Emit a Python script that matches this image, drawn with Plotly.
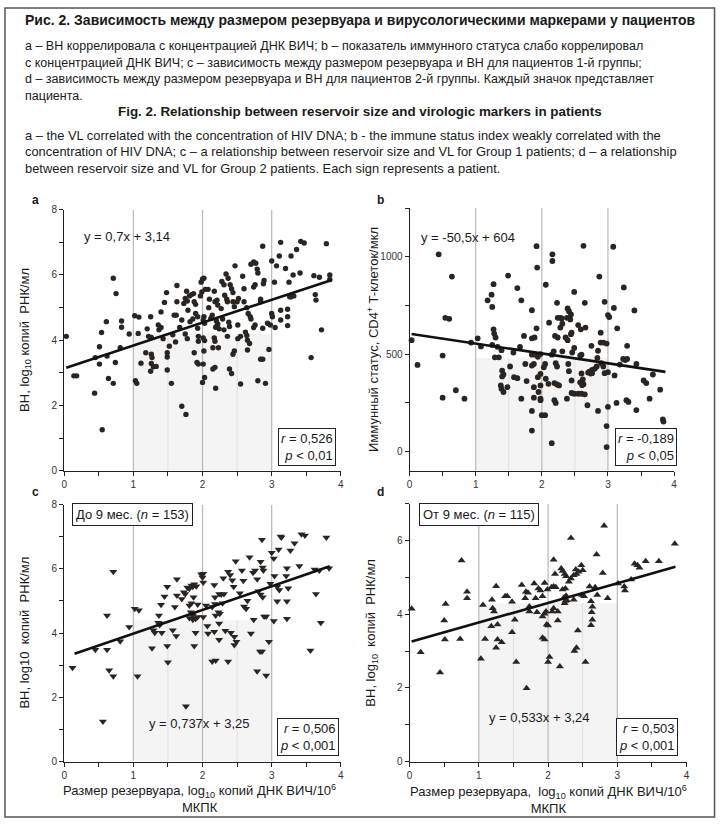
import plotly.graph_objects as go

W, H = 720, 827

# ---------------- data ----------------
a_x = [0.03,0.14,0.18,0.44,0.45,0.51,0.54,0.51,0.55,0.61,0.62,0.64,0.71,0.71,0.75,0.74,0.81,0.83,0.83,0.94,
       1.02,1.08,1.07,1.03,1.05,1.11,1.18,1.20,1.22,1.26,1.25,1.26,1.27,1.26,1.29,1.25,1.33,1.36,1.37,1.40,
       1.40,1.43,1.45,1.48,1.49,1.49,1.49,1.52,1.55,1.57,1.59,1.62,1.61,1.63,1.63,1.67,1.70,1.70,1.73,1.75,
       1.78,1.77,1.76,1.79,1.81,1.84,1.87,1.82,1.86,1.75,1.78,1.88,1.88,1.90,1.90,1.93,1.93,1.94,1.94,1.92,
       1.94,1.98,2.00,2.00,1.97,1.99,
       2.02,2.04,2.02,2.01,2.03,2.01,2.03,2.02,2.01,2.03,2.08,2.10,2.09,2.12,2.14,2.17,2.18,2.21,2.22,2.19,
       2.22,2.20,2.24,2.21,2.17,2.18,2.15,2.23,2.18,2.15,2.19,2.28,2.31,2.27,2.29,2.32,2.35,2.36,2.31,2.36,
       2.34,2.37,2.38,2.39,2.40,2.42,2.44,2.39,2.42,2.44,2.46,2.44,2.46,2.47,2.51,2.50,2.52,2.51,2.55,2.55,
       2.58,2.60,2.60,2.64,2.62,2.64,2.65,2.68,2.65,2.66,2.69,2.70,2.70,2.74,2.77,2.79,2.80,2.74,2.76,2.74,
       2.76,2.80,2.84,2.87,2.84,2.84,2.87,2.87,2.89,2.88,2.91,2.96,2.94,2.98,3.00,3.00,3.01,3.04,3.05,3.07,
       3.11,3.13,3.13,3.13,3.20,3.23,3.23,3.25,3.23,3.28,3.26,3.28,3.32,3.36,3.41,3.42,3.47,3.31,3.63,3.64,
       3.61,3.69,3.72,3.57,3.79,3.84,3.84]
a_y = [4.12,2.91,2.91,2.38,3.47,3.80,4.24,3.27,1.26,4.57,3.52,2.83,2.68,5.90,5.43,3.32,3.77,4.59,4.40,4.19,
       4.75,4.71,4.21,2.76,2.68,3.30,3.62,4.35,4.12,4.09,4.72,3.57,3.47,3.29,3.19,3.05,3.20,4.47,4.32,4.39,
       4.87,4.05,5.16,5.46,3.62,3.49,3.09,3.82,2.68,4.17,4.77,4.77,3.95,5.68,5.18,4.39,1.98,4.62,5.13,5.28,
       5.20,5.50,1.73,4.92,5.36,5.40,5.43,4.57,4.65,4.19,4.05,3.62,5.18,5.10,4.82,4.72,4.37,4.12,3.97,3.32,
       3.27,5.78,5.88,2.71,5.36,5.48,
       5.90,5.56,4.72,4.62,4.52,4.07,3.99,3.67,3.27,2.86,5.56,5.26,5.00,4.67,4.77,5.50,5.18,5.23,5.08,4.40,
       4.50,4.60,4.35,4.45,4.07,3.97,3.77,3.77,3.17,3.12,2.53,5.80,5.70,4.97,4.65,5.38,5.26,5.18,4.32,4.12,
       6.03,5.90,4.55,4.42,5.70,5.58,5.46,3.12,2.98,5.18,5.03,3.57,3.67,6.28,4.47,5.18,5.28,4.05,4.12,2.66,
       5.96,5.58,5.18,5.00,4.25,4.15,4.00,3.90,3.70,4.82,4.72,4.65,6.33,6.40,6.36,6.18,6.06,4.39,4.47,5.63,
       5.70,2.76,3.42,3.42,5.18,5.26,6.88,4.37,5.83,5.73,2.68,3.72,4.52,4.47,6.43,4.82,4.72,5.78,4.39,6.28,
       6.58,7.00,4.92,4.62,6.20,4.95,4.72,5.78,4.45,6.58,5.33,5.33,5.36,6.78,6.06,7.03,6.98,6.00,5.40,5.23,
       5.98,5.93,4.32,3.47,6.96,6.00,5.86]

b_x = [0.03,0.12,0.44,0.50,0.64,0.54,0.60,0.50,0.70,0.83,0.93,1.03,1.08,1.18,1.24,1.27,1.25,1.25,1.27,1.28,
       1.30,1.29,1.35,1.33,1.39,1.40,1.42,1.40,1.38,1.39,1.42,1.48,1.52,1.49,1.57,1.58,1.63,1.63,1.69,1.69,
       1.67,1.73,1.75,1.77,1.85,1.85,1.89,1.85,1.88,1.85,1.88,1.88,1.85,1.85,1.92,1.90,1.94,1.98,1.94,1.98,
       1.95,1.98,1.92,1.93,1.98,1.98,2.00,
       2.16,2.16,2.06,2.11,2.23,2.24,2.28,2.30,2.20,2.24,2.28,2.31,2.18,2.15,2.21,2.23,2.05,2.03,2.06,2.10,
       2.19,2.23,2.26,2.19,2.21,2.05,2.15,2.31,2.39,2.41,2.44,2.38,2.43,2.40,2.41,2.36,2.39,2.45,2.44,2.45,
       2.45,2.49,2.38,2.46,2.49,2.49,2.55,2.59,2.58,2.60,2.60,2.62,2.63,2.58,2.61,2.55,2.60,2.65,2.63,2.65,
       2.66,2.70,2.72,2.74,2.76,2.69,2.75,2.76,2.80,2.83,2.85,2.85,2.84,2.87,2.89,2.93,2.98,2.89,2.90,2.93,
       2.95,3.00,3.02,3.00,2.95,3.00,2.98,2.98,3.08,3.09,3.10,3.14,3.13,3.18,3.24,3.23,3.26,3.29,3.29,3.28,
       3.31,3.40,3.43,3.43,3.54,3.58,3.63,3.68,3.79,3.83,3.84]
b_y = [571,444,1012,492,898,686,681,276,314,271,559,581,539,776,805,859,742,547,627,605,
       585,483,483,537,520,415,395,385,339,322,305,330,436,903,508,381,376,839,776,271,
       537,593,449,361,725,581,585,497,449,441,330,276,208,107,632,497,486,500,381,398,
       305,271,1054,944,339,263,186,
       1012,978,856,661,763,686,686,683,593,585,636,656,514,497,453,436,449,432,373,347,
       351,344,339,263,249,186,42,514,734,720,703,686,678,449,412,585,571,610,602,364,
       300,296,271,508,819,531,649,627,492,497,400,370,345,355,340,296,296,293,1056,763,
       636,405,410,400,402,237,542,419,424,436,208,517,480,898,559,559,554,610,453,436,
       768,700,690,407,402,229,130,22,1051,737,390,632,249,446,842,475,469,475,542,263,
       254,724,449,212,364,351,271,395,317,164,153]

c_x = [0.12,0.45,0.56,0.62,0.62,0.65,0.71,0.71,0.81,0.94,1.02,1.08,1.06,1.27,1.29,1.31,1.36,1.38,1.40,1.37,
       1.40,1.41,1.45,1.49,1.49,1.50,1.57,1.62,1.60,1.63,1.63,1.70,1.73,1.75,1.76,1.78,1.81,1.84,1.86,1.88,
       1.91,1.81,1.84,1.83,1.86,1.81,1.86,1.90,1.93,1.90,1.88,1.87,1.93,1.98,
       2.01,2.00,2.01,2.05,2.01,2.07,2.08,2.17,2.18,2.14,2.18,2.19,2.23,2.25,2.17,2.24,2.24,2.14,2.19,2.24,
       2.27,2.31,2.29,2.30,2.33,2.37,2.40,2.37,2.43,2.41,2.46,2.45,2.48,2.46,2.49,2.54,2.57,2.59,2.60,2.63,
       2.65,2.68,2.70,2.74,2.73,2.76,2.79,2.81,2.84,2.83,2.86,2.79,2.86,2.84,2.87,2.88,2.87,2.89,2.92,2.92,
       2.96,2.98,3.00,3.03,3.04,3.03,3.08,3.10,3.08,3.11,3.13,3.14,3.21,3.22,3.22,3.24,3.27,3.33,3.40,3.43,
       3.48,3.56,3.64,3.62,3.69,3.71,3.79,3.83,3.22]
c_y = [2.92,3.48,1.25,4.55,3.48,2.84,2.66,5.91,3.75,4.19,4.76,4.71,2.66,3.53,4.09,4.01,4.32,4.25,4.30,4.55,
       4.88,4.01,5.14,5.44,3.60,3.09,4.09,3.91,4.81,5.68,5.17,5.06,5.27,5.22,1.72,5.42,5.38,5.48,5.44,5.52,
       5.46,4.86,4.93,4.65,4.55,4.47,4.42,4.45,4.50,4.01,3.60,5.12,4.89,5.83,
       5.85,5.73,5.58,4.86,4.50,4.22,3.99,5.50,5.12,4.81,4.91,4.55,4.65,4.60,4.04,4.30,3.79,3.12,3.15,5.22,
       5.20,5.22,4.93,5.71,4.07,5.91,5.81,3.12,5.65,4.01,3.89,5.44,6.24,3.63,3.73,5.24,5.95,5.63,4.83,4.76,
       5.01,6.36,3.99,4.42,5.88,5.95,5.68,5.30,5.20,3.43,3.43,2.81,6.91,6.22,6.04,5.95,5.12,4.52,4.52,2.68,
       3.73,5.54,6.50,6.32,5.78,4.38,4.99,6.60,5.44,5.34,7.01,6.98,5.78,4.99,4.45,5.40,6.57,6.80,6.09,7.08,
       7.04,3.46,5.22,5.98,5.95,4.32,6.98,6.02,6.02]

d_x = [0.03,0.16,0.44,0.50,0.52,0.51,0.73,0.75,0.83,0.83,1.03,1.06,1.09,1.18,1.19,1.20,1.22,1.25,1.27,1.25,
       1.27,1.33,1.38,1.41,1.48,1.48,1.52,1.54,1.62,1.67,1.68,1.71,1.69,1.73,1.73,1.80,1.82,1.86,1.89,1.92,
       1.84,1.92,1.95,1.97,1.92,1.95,1.95,1.98,2.00,1.99,2.05,2.08,2.11,2.00,2.02,2.06,2.08,2.10,2.08,2.14,
       2.14,2.17,2.19,2.21,2.24,2.26,2.24,2.27,2.23,2.26,2.25,2.21,2.25,2.30,2.33,2.33,2.37,2.40,2.41,2.44,
       2.37,2.38,2.41,2.43,2.48,2.50,2.49,2.52,2.54,2.60,2.62,2.64,2.63,2.64,2.62,2.68,2.70,2.71,2.79,2.81,
       2.86,3.01,3.10,3.11,3.20,3.25,3.29,3.32,3.41,3.60,3.83]
d_y = [4.15,2.97,2.42,3.83,4.28,3.31,3.33,5.46,4.61,4.43,2.79,4.25,3.33,3.67,4.39,4.16,4.07,4.76,3.72,3.09,
       3.31,3.24,4.49,4.49,4.34,3.51,3.85,2.70,4.79,4.43,4.61,4.58,1.99,4.07,4.21,4.83,4.43,4.70,4.64,4.49,
       4.05,3.94,4.01,4.07,3.36,3.31,4.85,3.72,3.69,4.67,4.73,4.75,4.73,2.70,2.84,4.07,4.16,5.09,5.48,4.07,
       3.83,2.58,5.24,5.17,5.09,5.03,4.30,4.38,4.45,4.50,4.36,4.67,4.70,4.88,4.97,6.07,5.06,5.21,5.09,5.15,
       4.39,3.00,3.09,3.56,5.33,5.19,4.52,4.49,2.70,4.75,4.35,4.20,4.05,3.85,3.70,4.73,5.62,4.52,5.12,6.40,
       4.43,4.83,4.75,4.64,4.94,5.37,5.33,5.26,5.44,5.44,5.91]

# regression coefficients, line spans, stats
fits = {
    "a": dict(k=0.7, b=3.14, x0=0.03, x1=3.87),
    "b": dict(k=-50.5, b=604, x0=0.03, x1=3.87),
    "c": dict(k=0.737, b=3.25, x0=0.15, x1=3.84),
    "d": dict(k=0.533, b=3.24, x0=0.03, x1=3.84),
}
eq_text = {"a": "y = 0,7x + 3,14", "b": "y = -50,5x + 604",
           "c": "y = 0,737x + 3,25", "d": "y = 0,533x + 3,24"}
stat_text = {"a": ("0,526", "&lt; 0,01"), "b": ("-0,189", "&lt; 0,05"),
             "c": ("0,506", "&lt; 0,001"), "d": ("0,503", "&lt; 0,001")}
group_text = {"c": "До 9 мес. (<i>n</i> = 153)", "d": "От 9 мес. (<i>n</i> = 115)"}

# ---------------- layout helpers ----------------
def px2x(p): return p / W
def px2y(p): return 1 - p / H

panels = {
    # name: (xpx0, xpx1, ypx_top, ypx_bottom, yrange, ydtick, yminor, shade_top)
    "a": (61.7, 340.7, 206.7, 471.7, [0, 8], 2, 1, 4.2),
    "b": (410.0, 676.7, 205.0, 471.7, [-100, 1250], 500, 250, 480),
    "c": (61.7, 340.7, 506.0, 766.7, [0, 8], 2, 1, 4.4),
    "d": (410.0, 689.3, 505.0, 766.7, [0, 7], 2, 1, 4.3),
}
order = ["a", "b", "c", "d"]
data = {"a": (a_x, a_y, "circle", 5.4), "b": (b_x, b_y, "circle", 5.8),
        "c": (c_x, c_y, "triangle-down", 7), "d": (d_x, d_y, "triangle-up", 7)}

FONT = "Liberation Sans, Arial, sans-serif"
MC = "#2a2521"

fig = go.Figure()
layout = dict(width=W, height=H, margin=dict(l=0, r=0, t=0, b=0),
              paper_bgcolor="white", plot_bgcolor="rgba(0,0,0,0)", showlegend=False)
shapes, annos = [], []

for i, name in enumerate(order, start=1):
    x0p, x1p, ytp, ybp, yr, ydt, ymn, shade = panels[name]
    xa = "xaxis" if i == 1 else f"xaxis{i}"
    ya = "yaxis" if i == 1 else f"yaxis{i}"
    xr = "x" if i == 1 else f"x{i}"
    yrf = "y" if i == 1 else f"y{i}"
    layout[xa] = dict(domain=[px2x(x0p), px2x(x1p)], range=[0, 4], anchor=yrf,
                      showgrid=False, zeroline=False, showline=True, linecolor="#222", linewidth=1,
                      ticks="outside", ticklen=4, tickwidth=1, tickcolor="#222", dtick=1, tick0=0,
                      minor=dict(dtick=0.5, ticks="outside", ticklen=4, tickcolor="#222"),
                      tickfont=dict(family=FONT, size=10, color="#333"))
    layout[ya] = dict(domain=[px2y(ybp), px2y(ytp)], range=yr, anchor=xr,
                      showgrid=False, zeroline=False, showline=True, linecolor="#222", linewidth=1,
                      ticks="outside", ticklen=4, tickwidth=1, tickcolor="#222", dtick=ydt, tick0=0,
                      minor=dict(dtick=ymn, ticks="outside", ticklen=4, tickcolor="#222"),
                      tickfont=dict(family=FONT, size=10, color="#333"))
    shapes.append(dict(type="rect", xref=xr, yref=yrf, x0=1, x1=3, y0=yr[0], y1=shade,
                       fillcolor="#f4f4f4", line=dict(width=0), layer="below"))
    for gx in (1.5, 2.5):
        shapes.append(dict(type="line", xref=xr, yref=yrf, x0=gx, x1=gx, y0=yr[0], y1=shade,
                           line=dict(color="#e0e0e0", width=1), layer="below"))
    for gx in (1, 2, 3):
        shapes.append(dict(type="line", xref=xr, yref=yrf, x0=gx, x1=gx, y0=yr[0], y1=yr[1],
                           line=dict(color="#b8b8b8", width=1.2), layer="below"))
    xs, ys, sym, sz = data[name]
    fig.add_trace(go.Scatter(x=xs, y=ys, mode="markers", xaxis=xr, yaxis=yrf, cliponaxis=False,
                             hoverinfo="skip",
                             marker=dict(symbol=sym, size=sz, color=MC, line=dict(width=0))))
    f = fits[name]
    fig.add_trace(go.Scatter(x=[f["x0"], f["x1"]], y=[f["k"] * f["x0"] + f["b"], f["k"] * f["x1"] + f["b"]],
                             mode="lines", xaxis=xr, yaxis=yrf, hoverinfo="skip",
                             line=dict(color="#111", width=2.6)))

# ---------------- annotations ----------------
def A(text, x, y, size=12, xanchor="center", yanchor="middle", bold=False, family=FONT, **kw):
    if bold:
        text = f"<b>{text}</b>"
    d = dict(text=text, x=px2x(x), y=px2y(y), xref="paper", yref="paper", showarrow=False,
             xanchor=xanchor, yanchor=yanchor, font=dict(family=family, size=size, color="#1a1a1a"))
    d.update(kw)
    annos.append(d)

# caption
A("Рис. 2. Зависимость между размером резервуара и вирусологическими маркерами у пациентов",
  360, 14, size=14, bold=True)
ru = ["a – ВН коррелировала с концентрацией ДНК ВИЧ; b – показатель иммунного статуса слабо коррелировал",
      "с концентрацией ДНК ВИЧ; c – зависимость между размером резервуара и ВН для пациентов 1-й группы;",
      "d – зависимость между размером резервуара и ВН для пациентов 2-й группы. Каждый значок представляет",
      "пациента."]
for k, t in enumerate(ru):
    A(t, 20, 41 + 16.7 * k, size=12.5, xanchor="left")
A("Fig. 2. Relationship between reservoir size and virologic markers in patients",
  360, 107, size=13.4, bold=True)
en = ["a – the VL correlated with the concentration of HIV DNA; b - the immune status index weakly correlated with the",
      "concentration of HIV DNA; c – a relationship between reservoir size and VL for Group 1 patients; d – a relationship",
      "between reservoir size and VL for Group 2 patients. Each sign represents a patient."]
for k, t in enumerate(en):
    A(t, 20, 131 + 16.7 * k, size=12.9, xanchor="left")

# panel letters
for name, (x, y) in {"a": (33, 197), "b": (381, 197), "c": (33, 493), "d": (381, 493)}.items():
    A(name, x, y, size=12, bold=True)

# y-axis titles
A("ВН, log<sub>10</sub> копий  РНК/мл", 22, 339, size=13, textangle=-90)
A("Иммунный статус, CD4<sup>+</sup> T-клеток/мкл", 373, 338, size=13, textangle=-90)
A("ВН, log10  копий  РНК/мл", 22, 636, size=13, textangle=-90)
A("ВН, log<sub>10</sub>  копий  РНК/мл", 372, 636, size=13, textangle=-90)

# x-axis titles
A("Размер резервуара, log<sub>10</sub> копий ДНК ВИЧ/10<sup>6</sup><br>МКПК", 198, 804, size=13)
A("Размер резервуара,  log<sub>10</sub> копий ДНК ВИЧ/10<sup>6</sup><br>МКПК", 550, 805, size=13)

# equations
A(eq_text["a"], 80, 234, size=13, xanchor="left")
A(eq_text["b"], 419, 235, size=13, xanchor="left")
A(eq_text["c"], 145, 728, size=13, xanchor="left")
A(eq_text["d"], 488, 722, size=13, xanchor="left")

# stat boxes
box_pos = {"a": (307, 448), "b": (648, 448), "c": (308, 742), "d": (649, 742)}
for name, (x, y) in box_pos.items():
    r, p = stat_text[name]
    A(f"<i>r</i> = {r}<br><i>p</i> {p}", x, y, size=13, bordercolor="#222", borderwidth=1,
      borderpad=2, bgcolor="white", align="right")

# group boxes
A(group_text["c"], 131, 516, size=13, bordercolor="#222", borderwidth=1, borderpad=3, bgcolor="white")
A(group_text["d"], 480, 516, size=13, bordercolor="#222", borderwidth=1, borderpad=3, bgcolor="white")

# outer frame
shapes.append(dict(type="rect", xref="paper", yref="paper", x0=px2x(2), x1=px2x(717.5),
                   y0=px2y(823), y1=px2y(2), line=dict(color="#555", width=1.5)))

layout["shapes"] = shapes
layout["annotations"] = annos
fig.update_layout(**layout)
fig.write_html("out.html", config={"displayModeBar": False, "staticPlot": True},
               post_script="document.body.style.margin='0px';")
